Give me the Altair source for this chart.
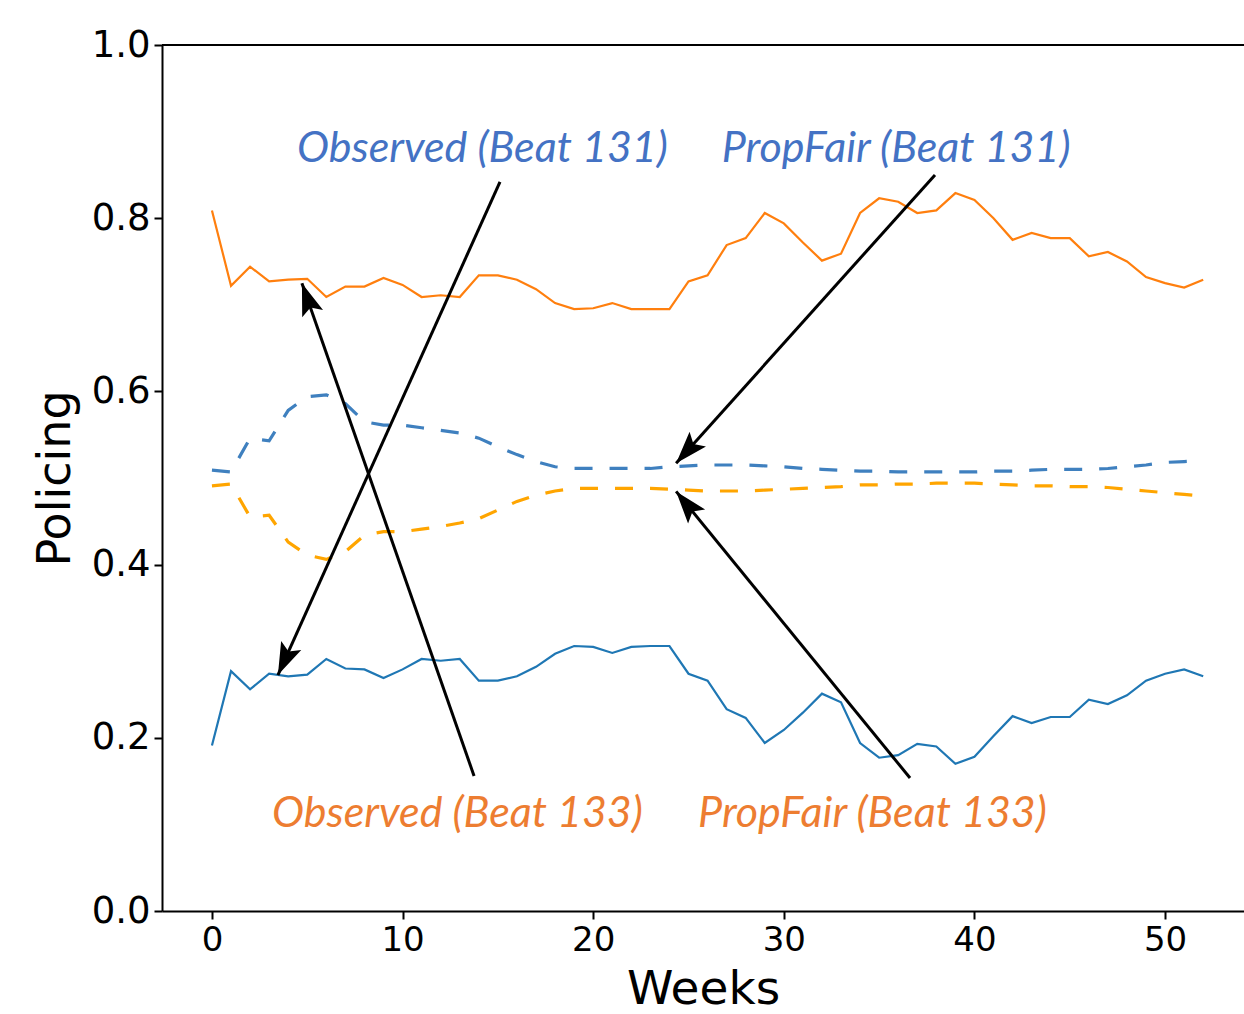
import math
import altair as alt
import pandas as pd

# ---------------- data ----------------
weeks = list(range(53))

observed_131 = [0.191, 0.277, 0.256, 0.274, 0.271, 0.273, 0.291, 0.280, 0.279, 0.269,
                0.279, 0.291, 0.289, 0.291, 0.266, 0.266, 0.271, 0.282, 0.297, 0.306,
                0.305, 0.298, 0.305, 0.306, 0.306, 0.274, 0.266, 0.233, 0.223, 0.194,
                0.209, 0.229, 0.251, 0.241, 0.194, 0.177, 0.180, 0.193, 0.190, 0.170,
                0.178, 0.202, 0.225, 0.217, 0.224, 0.224, 0.244, 0.239, 0.249, 0.266,
                0.274, 0.279, 0.271]

observed_133 = [0.809, 0.722, 0.744, 0.727, 0.729, 0.730, 0.709, 0.721, 0.721, 0.731,
                0.723, 0.709, 0.711, 0.709, 0.734, 0.734, 0.729, 0.718, 0.702, 0.695,
                0.696, 0.702, 0.695, 0.695, 0.695, 0.727, 0.734, 0.769, 0.777, 0.806,
                0.794, 0.772, 0.751, 0.759, 0.806, 0.823, 0.819, 0.806, 0.809, 0.829,
                0.821, 0.800, 0.775, 0.783, 0.777, 0.777, 0.756, 0.761, 0.750, 0.732,
                0.725, 0.720, 0.729]

propfair_131 = [0.509, 0.507, 0.546, 0.543, 0.578, 0.594, 0.596, 0.586, 0.565, 0.561,
                0.561, 0.558, 0.555, 0.552, 0.546, 0.536, 0.527, 0.519, 0.513, 0.511,
                0.511, 0.511, 0.511, 0.511, 0.513, 0.514, 0.515, 0.515, 0.515, 0.514,
                0.513, 0.511, 0.510, 0.509, 0.508, 0.508, 0.507, 0.507, 0.507, 0.507,
                0.507, 0.508, 0.508, 0.509, 0.510, 0.510, 0.510, 0.511, 0.513, 0.515,
                0.518, 0.519, 0.520]

propfair_133 = [0.491, 0.493, 0.455, 0.457, 0.426, 0.411, 0.406, 0.415, 0.434, 0.438,
                0.438, 0.441, 0.444, 0.448, 0.453, 0.463, 0.473, 0.480, 0.485, 0.488,
                0.488, 0.488, 0.488, 0.488, 0.487, 0.486, 0.485, 0.485, 0.485, 0.486,
                0.487, 0.488, 0.489, 0.490, 0.492, 0.492, 0.493, 0.493, 0.494, 0.494,
                0.494, 0.493, 0.492, 0.491, 0.491, 0.490, 0.490, 0.489, 0.487, 0.485,
                0.483, 0.481, 0.479]

series_names = ["obs131", "obs133", "pf131", "pf133"]
series_colors = ["#1f77b4", "#ff7f0e", "#3f80bf", "#ffa500"]

# annotation labels (text, x-center in weeks, baseline in policing units, colour)
label_texts = ["Observed (Beat 131)", "PropFair (Beat 131)",
               "Observed (Beat 133)", "PropFair (Beat 133)"]
label_x = [14.19, 35.89, 12.88, 34.65]
label_y = [0.865, 0.865, 0.097, 0.097]
label_colors = ["#4472c4", "#4472c4", "#ed7d31", "#ed7d31"]

# arrows (start -> tip), in data units
arrow_x0 = [15.11, 13.75, 37.93, 36.62]
arrow_y0 = [0.842, 0.156, 0.850, 0.1536]
arrow_x1 = [3.46, 4.72, 24.35, 24.35]
arrow_y1 = [0.2725, 0.725, 0.517, 0.4845]

x_ticks = [0, 10, 20, 30, 40, 50]
y_ticks = [0.0, 0.2, 0.4, 0.6, 0.8, 1.0]

# ---------------- layout ----------------
W, H = 1082, 866
X_DOMAIN = [-2.62, 54.14]
Y_DOMAIN = [0.0, 1.0]
px_per_x = W / (X_DOMAIN[1] - X_DOMAIN[0])
px_per_y = H / (Y_DOMAIN[1] - Y_DOMAIN[0])

rows = []
for name, vals in zip(series_names, [observed_131, observed_133, propfair_131, propfair_133]):
    for w, v in zip(weeks, vals):
        rows.append({"week": w, "value": v, "series": name,
                     "dashed": "dashed" if name.startswith("pf") else "solid"})
df = pd.DataFrame(rows)

xscale = alt.Scale(domain=X_DOMAIN, nice=False, zero=False)
yscale = alt.Scale(domain=Y_DOMAIN, nice=False, zero=False)

x_axis = alt.Axis(values=x_ticks, title="Weeks", format="d", grid=False,
                  labelFont="DejaVu Sans", labelFontSize=34, labelColor="black",
                  titleFont="DejaVu Sans", titleFontSize=47, titleFontWeight="normal",
                  titleColor="black", titlePadding=9, domainColor="black",
                  domainWidth=2, tickColor="black", tickWidth=2, tickSize=8,
                  labelPadding=4)
y_axis = alt.Axis(values=y_ticks, title="Policing", format=".1f", grid=False,
                  labelFont="DejaVu Sans", labelFontSize=37, labelColor="black",
                  titleFont="DejaVu Sans", titleFontSize=46, titleFontWeight="normal",
                  titleColor="black", titlePadding=12, domainColor="black",
                  domainWidth=2, tickColor="black", tickWidth=2, tickSize=8,
                  labelPadding=4)

solid = alt.Chart(df[df["dashed"] == "solid"]).mark_line(strokeWidth=2.2).encode(
    x=alt.X("week:Q", scale=xscale, axis=x_axis),
    y=alt.Y("value:Q", scale=yscale, axis=y_axis),
    color=alt.Color("series:N", scale=alt.Scale(domain=series_names, range=series_colors), legend=None),
    detail="series:N",
)

dashed = alt.Chart(df[df["dashed"] == "dashed"]).mark_line(strokeWidth=3.2, strokeDash=[18, 17]).encode(
    x=alt.X("week:Q", scale=xscale),
    y=alt.Y("value:Q", scale=yscale),
    color=alt.Color("series:N", scale=alt.Scale(domain=series_names, range=series_colors), legend=None),
    detail="series:N",
)

top_spine = alt.Chart(pd.DataFrame({"y": [1.0]})).mark_rule(color="black", strokeWidth=2).encode(
    y=alt.Y("y:Q", scale=yscale)
)

arrows_df = pd.DataFrame({"x0": arrow_x0, "y0": arrow_y0, "x1": arrow_x1, "y1": arrow_y1})
angles = []
for x0, y0, x1, y1 in zip(arrow_x0, arrow_y0, arrow_x1, arrow_y1):
    dx = (x1 - x0) * px_per_x
    dy = -(y1 - y0) * px_per_y
    ang = math.degrees(math.atan2(dx, -dy)) % 360
    angles.append(ang)
arrows_df["angle"] = angles

arrow_lines = alt.Chart(arrows_df).mark_rule(color="black", strokeWidth=3).encode(
    x=alt.X("x0:Q", scale=xscale), y=alt.Y("y0:Q", scale=yscale),
    x2="x1:Q", y2="y1:Q",
)

head_path = "M0,0 L-0.34,1 L0,0.8 L0.34,1 Z"
arrow_heads = alt.Chart(arrows_df).mark_point(
    shape=head_path, filled=True, color="black", size=4200, opacity=1, strokeWidth=0
).encode(
    x=alt.X("x1:Q", scale=xscale), y=alt.Y("y1:Q", scale=yscale),
    angle=alt.Angle("angle:Q", scale=None),
)

labels_df = pd.DataFrame({"text": label_texts, "x": label_x, "y": label_y, "c": label_colors})
labels = alt.Chart(labels_df).mark_text(
    font="Lato", fontStyle="italic", fontSize=43, align="center", baseline="alphabetic"
).encode(
    x=alt.X("x:Q", scale=xscale), y=alt.Y("y:Q", scale=yscale),
    text="text:N", color=alt.Color("c:N", scale=None),
)

chart = alt.layer(solid, dashed, top_spine, arrow_lines, arrow_heads, labels).properties(
    width=W, height=H,
    autosize=alt.AutoSizeParams(type="none"),
    padding={"left": 162, "top": 45, "right": 0, "bottom": 103},
    background="white",
).configure_view(stroke=None)

chart.save("out.html", embed_options={"renderer": "svg", "actions": False})
